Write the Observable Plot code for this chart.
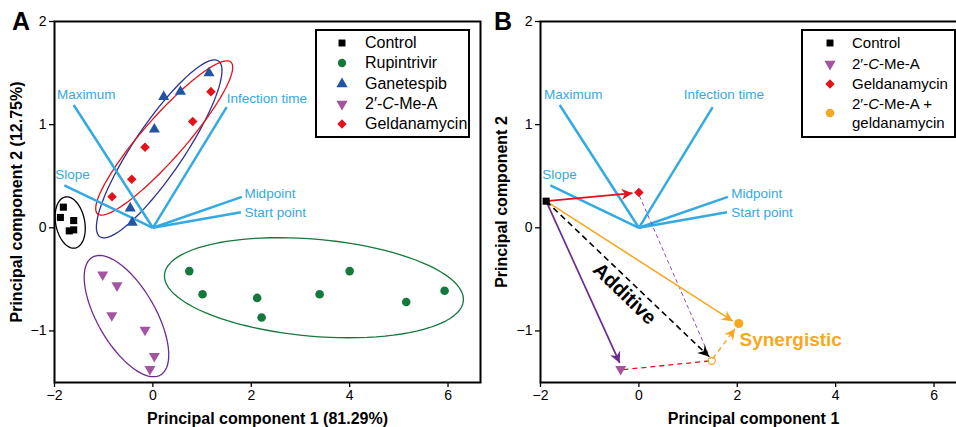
<!DOCTYPE html>
<html><head><meta charset="utf-8">
<script src="https://cdn.jsdelivr.net/npm/d3@7"></script>
<script src="https://cdn.jsdelivr.net/npm/@observablehq/plot@0.6"></script>
<style>
body{margin:0;background:#fff;font-family:"Liberation Sans",Arial,sans-serif;}
#wrap{position:relative;width:956px;height:427px;overflow:hidden;background:#fff;}
#wrap > svg{position:absolute;top:0;}
g[aria-label="x-axis label"], g[aria-label="y-axis label"]{font-size:16px;font-weight:bold;}
.letter{position:absolute;font:bold 25px "Liberation Sans",Arial,sans-serif;line-height:25px;}
.legend{position:absolute;border:2px solid #000;box-sizing:border-box;background:#fff;}
.legend .row{position:absolute;height:20px;line-height:20px;white-space:nowrap;color:#000;}
.legend svg{position:absolute;}
</style>
</head><body>
<div id="wrap"></div>
<script>
// ---------- Panel A data ----------
const controlAX = [-1.82, -1.88, -1.61, -1.61, -1.70];
const controlAY = [0.20, 0.10, 0.07, -0.02, -0.03];
const rupX = [0.74, 1.01, 2.12, 2.21, 3.39, 4.00, 5.15, 5.93];
const rupY = [-0.42, -0.645, -0.68, -0.87, -0.645, -0.42, -0.72, -0.61];
const ganX = [1.14, 0.56, 0.22, 0.03, -0.46, -0.42];
const ganY = [1.50, 1.32, 1.27, 0.955, 0.19, 0.05];
const cmeX = [-1.02, -0.73, -0.835, -0.16, 0.03, -0.06];
const cmeY = [-0.455, -0.56, -0.85, -0.99, -1.245, -1.37];
const geldX = [1.18, 0.81, -0.16, -0.43, -0.83];
const geldY = [1.32, 1.03, 0.78, 0.47, 0.30];

// group ellipses: center and two semi-axis vectors (data units)
const ellNames = ["Control", "Rupintrivir", "Ganetespib", "2′-C-Me-A", "Geldanamycin"];
const ellCX = [-1.681, 3.274, 0.128, -0.537, 0.230];
const ellCY = [0.051, -0.581, 0.765, -0.856, 0.871];
const ellUX = [0.1009, 3.038, 1.205, 0.6912, 1.3552];
const ellUY = [-0.2474, -0.1268, 0.852, -0.5710, 0.7357];
const ellVX = [-0.2893, -0.0860, 0.4213, -0.5106, 0.3207];
const ellVY = [-0.0268, -0.4684, -0.1355, -0.1406, -0.1344];

// loadings (shared by both panels)
const loadNames = ["Maximum", "Infection time", "Slope", "Midpoint", "Start point"];
const loadX = [-1.61, 1.50, -1.80, 1.81, 1.79];
const loadY = [1.19, 1.17, 0.41, 0.30, 0.15];
const labelAX = [-1.95, 1.50, -1.985, 1.86, 1.86];
const labelAY = [1.29, 1.25, 0.516, 0.329, 0.148];
const labelBX = [-1.93, 0.91, -1.965, 1.876, 1.876];
const labelBY = [1.29, 1.29, 0.516, 0.329, 0.148];

// ---------- Panel B data ----------
const bNames = ["Control", "2′-C-Me-A", "Geldanamycin", "2′-C-Me-A + geldanamycin", "Additive expectation"];
const bX = [-1.885, -0.37, 0.0, 2.03, 1.48];
const bY = [0.258, -1.37, 0.342, -0.928, -1.29];
// arrows from control: tip positions
const arrowNames = ["Geldanamycin", "2′-C-Me-A", "Additive", "Combination"];
const arrowTipX = [-0.13, -0.39, 1.425, 1.91];
const arrowTipY = [0.336, -1.31, -1.248, -0.905];
// synergy arrow (additive expectation -> combination)
const synFromX = [1.50], synFromY = [-1.27], synToX = [1.957], synToY = [-0.978];
// dashed construction lines
const redDashX1 = [-0.313], redDashY1 = [-1.375], redDashX2 = [1.46], redDashY2 = [-1.29];
const purDashX1 = [0.01], purDashY1 = [0.31], purDashX2 = [1.455], purDashY2 = [-1.27];

const xTicks = [-2, 0, 2, 4, 6];
const yTicks = [-1, 0, 1, 2];

// ---------- styles ----------
const col = {Control: "#000000", Rupintrivir: "#15783c", Ganetespib: "#2353a3", "2′-C-Me-A": "#a3569f", Geldanamycin: "#e3121b", combo: "#f7a823"};
const ellCol = {Control: "#000000", Rupintrivir: "#15783c", Ganetespib: "#2e3192", "2′-C-Me-A": "#6b2c91", Geldanamycin: "#e3121b"};
const loadCol = "#35a9e1";
const font = "Liberation Sans, Arial, sans-serif";
const fmt = d3.format("d");

const sqrt3 = Math.sqrt(3);
const triDown = {draw(ctx, size) { const y = -Math.sqrt(size / (sqrt3 * 3)); ctx.moveTo(0, -y * 2); ctx.lineTo(-sqrt3 * y, y); ctx.lineTo(sqrt3 * y, y); ctx.closePath(); }};

const zip = (xs, ys) => xs.map((x, i) => ({x, y: ys[i]}));
const loadingsA = loadNames.map((n, i) => ({name: n, x: loadX[i], y: loadY[i], lx: labelAX[i], ly: labelAY[i]}));
const loadingsB = loadNames.map((n, i) => ({name: n, x: loadX[i], y: loadY[i], lx: labelBX[i], ly: labelBY[i]}));
const ellPts = ellNames.flatMap((g, i) => d3.range(0, 97).map(k => {
  const t = 2 * Math.PI * k / 96;
  return {g, x: ellCX[i] + Math.cos(t) * ellUX[i] + Math.sin(t) * ellVX[i], y: ellCY[i] + Math.cos(t) * ellUY[i] + Math.sin(t) * ellVY[i]};
}));

const H = 427, mTop = 21, mBottom = 45;
const yDomain = [-1.5, 2];
const xDomain = [-2, 6.66];

function axes(xLabel, yLabel, yOff) {
  return [
    Plot.axisX({ticks: xTicks, tickFormat: fmt, tickSize: 5, tickPadding: 3, fontSize: 14, strokeWidth: 1.3, label: xLabel, labelAnchor: "center", labelOffset: 41, labelArrow: "none"}),
    Plot.axisY({ticks: yTicks, tickFormat: fmt, tickSize: 5, tickPadding: 3, fontSize: 14, strokeWidth: 1.3, label: yLabel, labelAnchor: "center", labelOffset: yOff, labelArrow: "none"}),
    Plot.frame({stroke: "#000", strokeWidth: 2})
  ];
}
function loadingMarks(data) {
  return [
    Plot.link(data, {x1: 0, y1: 0, x2: "x", y2: "y", stroke: loadCol, strokeWidth: 2.5}),
    Plot.text(data, {x: "lx", y: "ly", text: "name", textAnchor: "start", lineAnchor: "middle", fill: loadCol, fontSize: 13.5})
  ];
}

const plotA = Plot.plot({
  width: 482, height: H, marginLeft: 54, marginRight: 2, marginTop: mTop, marginBottom: mBottom,
  x: {domain: xDomain}, y: {domain: yDomain}, color: {type: "identity"},
  style: {fontFamily: font, background: "transparent", overflow: "visible"},
  marks: [
    Plot.line(ellPts, {x: "x", y: "y", z: "g", stroke: d => ellCol[d.g], strokeWidth: 1.3, curve: "linear-closed"}),
    ...loadingMarks(loadingsA),
    Plot.dot(zip(controlAX, controlAY), {x: "x", y: "y", symbol: d3.symbolSquare, r: 4, fill: col.Control}),
    Plot.dot(zip(rupX, rupY), {x: "x", y: "y", symbol: d3.symbolCircle, r: 4.3, fill: col.Rupintrivir}),
    Plot.dot(zip(ganX, ganY), {x: "x", y: "y", symbol: d3.symbolTriangle, r: 4.1, fill: col.Ganetespib}),
    Plot.dot(zip(cmeX, cmeY), {x: "x", y: "y", symbol: triDown, r: 4.1, fill: col["2′-C-Me-A"]}),
    Plot.dot(zip(geldX, geldY), {x: "x", y: "y", symbol: d3.symbolDiamond2, r: 4.3, fill: col.Geldanamycin}),
    ...axes("Principal component 1 (81.29%)", "Principal component 2 (12.75%)", 44)
  ]
});

function barb(color) {
  const m = d3.create("svg:marker")
    .attr("viewBox", "-12 -7 14 14").attr("markerWidth", 14).attr("markerHeight", 14)
    .attr("markerUnits", "userSpaceOnUse").attr("orient", "auto").attr("overflow", "visible");
  m.append("path").attr("d", "M0,0L-11,-5.5L-7.5,0L-11,5.5Z").attr("fill", color).attr("stroke", "none");
  return m.node();
}

function buildB(head) {
  const ctrl = {x: bX[0], y: bY[0]};
  const arrow = (i, extra) => Plot.link([arrowNames[i]], {x1: () => ctrl.x, y1: () => ctrl.y, x2: () => arrowTipX[i], y2: () => arrowTipY[i], markerEnd: head, ...extra});
  const pt = i => [{x: bX[i], y: bY[i]}];
  return Plot.plot({
    width: 486, height: H, marginLeft: 58, marginRight: 2, marginTop: mTop, marginBottom: mBottom,
    x: {domain: xDomain}, y: {domain: yDomain}, color: {type: "identity"},
    style: {fontFamily: font, background: "transparent", overflow: "visible"},
    marks: [
      ...loadingMarks(loadingsB),
      Plot.link(zip(purDashX1, purDashY1).map((d, i) => ({...d, x2: purDashX2[i], y2: purDashY2[i]})), {x1: "x", y1: "y", x2: "x2", y2: "y2", stroke: "#8b4fb0", strokeWidth: 1, strokeDasharray: "4,3"}),
      Plot.link(zip(redDashX1, redDashY1).map((d, i) => ({...d, x2: redDashX2[i], y2: redDashY2[i]})), {x1: "x", y1: "y", x2: "x2", y2: "y2", stroke: "#e3121b", strokeWidth: 1.3, strokeDasharray: "5,4"}),
      arrow(0, {stroke: col.Geldanamycin, strokeWidth: 1.7}),
      arrow(1, {stroke: "#6b2c91", strokeWidth: 1.7}),
      arrow(3, {stroke: col.combo, strokeWidth: 1.6}),
      arrow(2, {stroke: "#000", strokeWidth: 1.6, strokeDasharray: "6,4"}),
      Plot.link(zip(synFromX, synFromY).map((d, i) => ({...d, x2: synToX[i], y2: synToY[i]})), {x1: "x", y1: "y", x2: "x2", y2: "y2", stroke: col.combo, strokeWidth: 1.5, strokeDasharray: "5,4", markerEnd: head}),
      Plot.dot(pt(0), {x: "x", y: "y", symbol: d3.symbolSquare, r: 4, fill: col.Control}),
      Plot.dot(pt(1), {x: "x", y: "y", symbol: triDown, r: 4.1, fill: col["2′-C-Me-A"]}),
      Plot.dot(pt(2), {x: "x", y: "y", symbol: d3.symbolDiamond2, r: 4.3, fill: col.Geldanamycin}),
      Plot.dot(pt(3), {x: "x", y: "y", symbol: d3.symbolCircle, r: 4.6, fill: col.combo}),
      Plot.dot(pt(4), {x: "x", y: "y", symbol: d3.symbolCircle, r: 3.6, fill: "none", stroke: col.combo, strokeWidth: 1.2}),
      Plot.text(["Additive"], {x: () => -0.29, y: () => -0.64, text: d => d, rotate: 44, fontSize: 20, fontWeight: "bold", fill: "#000"}),
      Plot.text(["Synergistic"], {x: () => 2.045, y: () => -1.09, text: d => d, textAnchor: "start", lineAnchor: "middle", fontSize: 19, fontWeight: "bold", fill: col.combo}),
      ...axes("Principal component 1", "Principal component 2", 45)
    ]
  });
}
let plotB;
try { plotB = buildB(barb); } catch (e) { plotB = buildB("arrow"); }

const wrap = document.getElementById("wrap");
plotA.style.left = "0px";
plotB.style.left = "482px";
wrap.append(plotA, plotB);

// panel letters
for (const [t, l] of [["A", 12], ["B", 494]]) {
  const d = document.createElement("div"); d.className = "letter"; d.textContent = t;
  d.style.left = l + "px"; d.style.top = "9px"; wrap.append(d);
}

// legends
function symbolSvg(type, size, color) {
  const s = d3.create("svg").attr("width", 14).attr("height", 14);
  s.append("path").attr("transform", "translate(7,7)").attr("d", d3.symbol(type, size)()).attr("fill", color);
  return s.node();
}
const legendA = {names: ["Control", "Rupintrivir", "Ganetespib", "2′-C-Me-A", "Geldanamycin"],
  html: ["Control", "Rupintrivir", "Ganetespib", "2′-<i>C</i>-Me-A", "Geldanamycin"]};
const legendB = {names: ["Control", "2′-C-Me-A", "Geldanamycin", "2′-C-Me-A + geldanamycin"],
  html: ["Control", "2′-<i>C</i>-Me-A", "Geldanamycin", "2′-<i>C</i>-Me-A +<br>geldanamycin"]};
const symOf = {Control: [d3.symbolSquare, 48], Rupintrivir: [d3.symbolCircle, 55], Ganetespib: [d3.symbolTriangle, 55], "2′-C-Me-A": [triDown, 55], Geldanamycin: [d3.symbolDiamond2, 55], "2′-C-Me-A + geldanamycin": [d3.symbolCircle, 60]};
const colOf = n => n === "2′-C-Me-A + geldanamycin" ? col.combo : col[n];

function makeLegend(spec, box, mx, tx, rows, markerRows, fs) {
  const d = document.createElement("div"); d.className = "legend";
  Object.assign(d.style, {left: box[0] + "px", top: box[1] + "px", width: box[2] + "px", height: box[3] + "px", fontSize: fs + "px"});
  spec.names.forEach((n, i) => {
    const [ty, sz] = symOf[n];
    const s = symbolSvg(ty, sz, colOf(n));
    s.style.left = (mx - 7) + "px"; s.style.top = (markerRows[i] - 7) + "px";
    d.append(s);
    const r = document.createElement("div"); r.className = "row";
    r.innerHTML = spec.html[i];
    if (spec.html[i].includes("<br>")) { r.style.lineHeight = "19px"; r.style.height = "40px"; r.style.top = (rows[i] - 9.5) + "px"; }
    else r.style.top = (rows[i] - 10) + "px";
    r.style.left = tx + "px";
    d.append(r);
  });
  wrap.append(d);
}
// positions inside legend boxes (px, relative to box)
makeLegend(legendA, [315, 29, 155, 109], 25, 48, [11.7, 31.7, 52.5, 72.7, 92.7], [11.7, 31.7, 52.5, 72.7, 92.7], 16);
makeLegend(legendB, [801, 29, 155, 109], 26.5, 49, [11.7, 33, 52.7, 72], [11.7, 33, 52.7, 81.5], 15);
</script>
</body></html>
